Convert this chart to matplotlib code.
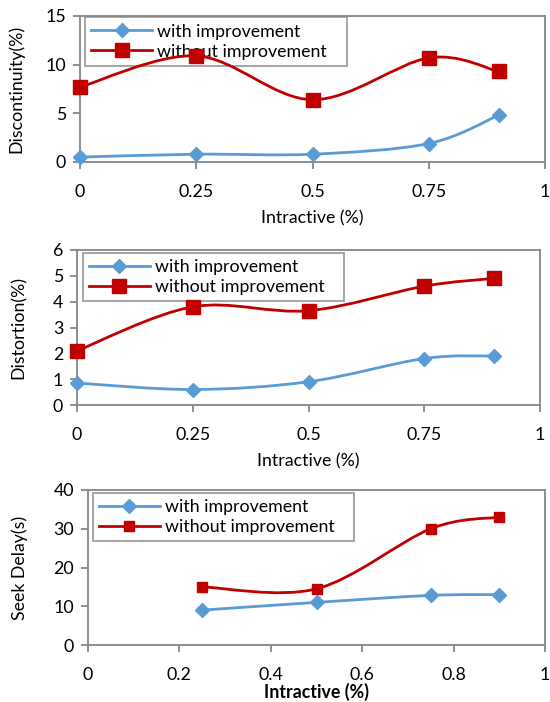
import numpy as np
import matplotlib
matplotlib.use("Agg")
import matplotlib.pyplot as plt
from matplotlib.path import Path
from matplotlib.patches import PathPatch
from matplotlib.lines import Line2D

plt.rcParams['font.family'] = ['Lato', 'DejaVu Sans']

# ---------------- data ----------------
x_top = [0, 0.25, 0.5, 0.75, 0.9]
disc_with = [0.5, 0.8, 0.8, 1.9, 4.8]
disc_without = [7.7, 10.9, 6.4, 10.7, 9.3]

dist_with = [0.85, 0.6, 0.9, 1.8, 1.9]
dist_without = [2.1, 3.8, 3.65, 4.6, 4.9]

x_seek = [0.25, 0.5, 0.75, 0.9]
seek_with = [9.0, 11.0, 12.8, 13.0]
seek_without = [15.0, 14.5, 30.0, 33.0]

labels = ['with improvement', 'without improvement']
BLUE = '#5B9BD5'
RED = '#C00000'
GRAY = '#868686'
FS = 12.8


def smooth_line(ax, xs, ys, color, lw=2.0):
    # Excel style smoothed line: cubic bezier through the points
    p = np.column_stack([xs, ys]).astype(float)
    n = len(p)
    verts = [p[0]]
    codes = [Path.MOVETO]
    for i in range(n - 1):
        p0 = p[i - 1] if i > 0 else p[i]
        p3 = p[i + 2] if i + 2 < n else p[i + 1]
        c1 = p[i] + (p[i + 1] - p0) / 6.0
        c2 = p[i + 1] - (p3 - p[i]) / 6.0
        verts += [c1, c2, p[i + 1]]
        codes += [Path.CURVE4] * 3
    ax.add_patch(PathPatch(Path(verts, codes), facecolor='none',
                           edgecolor=color, lw=lw, zorder=2))


def panel(rect, xs, y1, y2, ylim, yticks, xticks, xticklabels, ylabel, ylab_x,
          bold_x, sq_size, leg_anchor):
    ax = fig.add_axes(rect)
    smooth_line(ax, xs, y1, BLUE)
    smooth_line(ax, xs, y2, RED)
    ax.plot(xs, y1, ls='none', marker='D', ms=7.2, color=BLUE, zorder=3, clip_on=False)
    ax.plot(xs, y2, ls='none', marker='s', ms=sq_size, color=RED, zorder=3, clip_on=False)
    ax.set_xlim(0, 1)
    ax.set_ylim(*ylim)
    ax.set_xticks(xticks)
    ax.set_xticklabels(xticklabels)
    ax.set_yticks(yticks)
    for s in ax.spines.values():
        s.set_color(GRAY)
        s.set_linewidth(1.3)
    ax.tick_params(axis='both', color=GRAY, length=5, width=1.3, labelsize=FS)
    ax.tick_params(axis='x', pad=11)
    ax.tick_params(axis='y', pad=5)
    ax.set_ylabel(ylabel, fontsize=FS)
    ax.yaxis.set_label_coords(ylab_x, 0.5)
    ax.set_xlabel('Intractive (%)', fontsize=FS,
                  fontweight='bold' if bold_x else 'normal', labelpad=7 if not bold_x else 0)
    handles = [
        Line2D([], [], color=BLUE, lw=2, marker='D', ms=7.2),
        Line2D([], [], color=RED, lw=2, marker='s', ms=sq_size),
    ]
    leg = ax.legend(handles, [l + '   ' for l in labels], loc='upper left',
                    bbox_to_anchor=leg_anchor,
                    fontsize=FS, handlelength=3.4, handletextpad=0.3,
                    borderpad=0.35, labelspacing=0.22, fancybox=False,
                    borderaxespad=0)
    leg.set_zorder(1)
    leg.get_frame().set_facecolor('none')
    leg.get_frame().set_edgecolor(GRAY)
    leg.get_frame().set_linewidth(1.3)
    return ax


fig = plt.figure(figsize=(5.5, 7.02), dpi=100)
W, H = 550.0, 702.0

panel([80 / W, (H - 162) / H, 465 / W, 146 / H], x_top, disc_with, disc_without,
      (0, 15), [0, 5, 10, 15], [0, 0.25, 0.5, 0.75, 1], ['0', '0.25', '0.5', '0.75', '1'],
      'Discontinuity(%)', -0.12, False, 9.5, (0.011, 0.99))

panel([77 / W, (H - 405) / H, 463 / W, 155 / H], x_top, dist_with, dist_without,
      (0, 6), [0, 1, 2, 3, 4, 5, 6], [0, 0.25, 0.5, 0.75, 1], ['0', '0.25', '0.5', '0.75', '1'],
      'Distortion(%)', -0.108, False, 9.5, (0.013, 0.98))

panel([88 / W, (H - 645) / H, 457 / W, 155 / H], x_seek, seek_with, seek_without,
      (0, 40), [0, 10, 20, 30, 40], [0, 0.2, 0.4, 0.6, 0.8, 1], ['0', '0.2', '0.4', '0.6', '0.8', '1'],
      'Seek Delay(s)', -0.131, True, 7, (0.011, 0.98))

fig.savefig('out.png', dpi=100)
